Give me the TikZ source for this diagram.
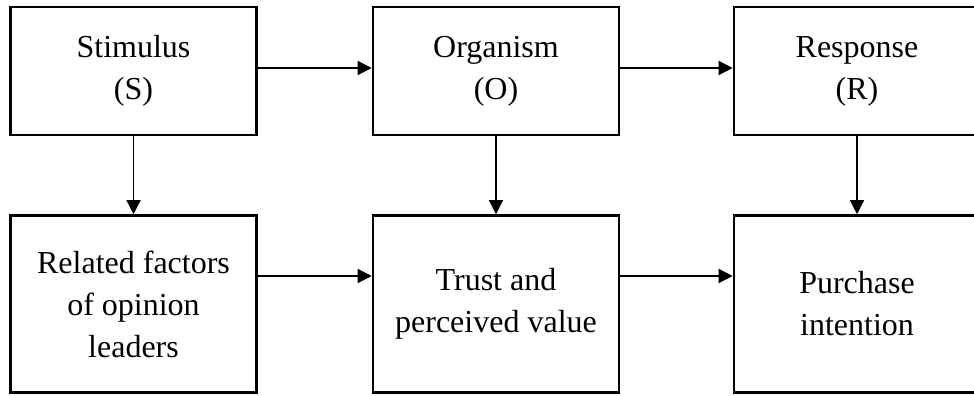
\documentclass[tikz,border=0pt]{standalone}
\usepackage{fontspec}
\setmainfont{Liberation Serif}
\usetikzlibrary{arrows.meta}

\begin{document}
\begin{tikzpicture}[x=1pt, y=1pt,
    box/.style={draw, line width=2.6pt, align=center, inner sep=0pt,
      minimum width=246pt, font=\fontsize{32}{42}\selectfont},
    toprow/.style={box, minimum height=128pt},
    botrow/.style={box, minimum height=177pt},
    link/.style={-{Triangle[length=14pt,width=14pt]}, line width=1.4pt}]
    \useasboundingbox (0,0) rectangle (974,396);
    \clip (0,0) rectangle (974,396);

    % S-O-R
    \node[toprow] (stim) at (133.5,325) {Stimulus\\(S)};
    \node[toprow] (org) at (496,325) {Organism\\(O)};
    \node[toprow] (resp) at (857,325) {Response\\(R)};

    % variables
    \node[botrow] (rel) at (133.5,92) {Related factors\\of opinion\\leaders};
    \node[botrow] (trust) at (496,92) {Trust and\\perceived value};
    \node[botrow] (purch) at (857,92) {Purchase\\intention};

    % arrows
    \draw[link] ([yshift=3pt]stim.east) -- ([yshift=3pt]org.west);
    \draw[link] ([yshift=3pt]org.east) -- ([yshift=3pt]resp.west);
    \draw[link] (stim) -- (rel);
    \draw[link] (org) -- (trust);
    \draw[link] (resp) -- (purch);
    \draw[link] ([yshift=28pt]rel.east) -- ([yshift=28pt]trust.west);
    \draw[link] ([yshift=28pt]trust.east) -- ([yshift=28pt]purch.west);
  \end{tikzpicture}
\end{document}
